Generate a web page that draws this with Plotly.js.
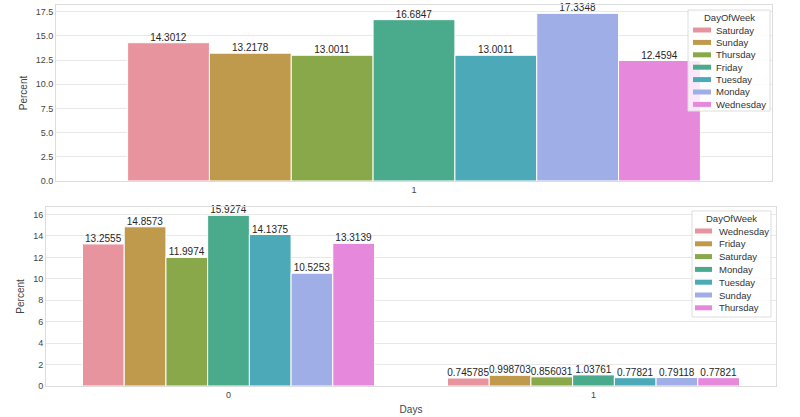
<!DOCTYPE html>
<html>
<head>
<meta charset="utf-8">
<script src="https://cdn.plot.ly/plotly-3.0.1.min.js"></script>
<style>html,body{margin:0;padding:0;background:#fff;}#chart{width:800px;height:417px;}</style>
</head>
<body>
<div id="chart"></div>
<script>
// Top panel (category "1")
const topCategories = ['1'];
const topDays = ['Saturday', 'Sunday', 'Thursday', 'Friday', 'Tuesday', 'Monday', 'Wednesday'];
const topValues = [14.3012, 13.2178, 13.0011, 16.6847, 13.0011, 17.3348, 12.4594];

// Bottom panel (categories "0" and "1")
const bottomCategories = ['0', '1'];
const bottomDays = ['Wednesday', 'Friday', 'Saturday', 'Monday', 'Tuesday', 'Sunday', 'Thursday'];
const bottomValues0 = [13.2555, 14.8573, 11.9974, 15.9274, 14.1375, 10.5253, 13.3139];
const bottomValues1 = [0.745785, 0.998703, 0.856031, 1.03761, 0.77821, 0.79118, 0.77821];

const palette = ['#e8949f', '#c09a4c', '#88a84a', '#4aab8c', '#4ca9b8', '#a0aee8', '#e689dc'];

const W = 800, H = 417;
const fontFam = '"Liberation Sans", Arial, sans-serif';
const traces = [];

topDays.forEach((d, i) => {
  traces.push({
    type: 'bar', x: topCategories, y: [topValues[i]], name: d,
    xaxis: 'x', yaxis: 'y', showlegend: false,
    marker: {color: palette[i], line: {color: '#ffffff', width: 1}},
    text: [String(topValues[i])], textposition: 'outside', cliponaxis: false,
    constraintext: 'none',
    textfont: {family: fontFam, size: 10, color: '#262626'},
    hoverinfo: 'x+y+name'
  });
});

bottomDays.forEach((d, i) => {
  const vals = [bottomValues0[i], bottomValues1[i]];
  traces.push({
    type: 'bar', x: bottomCategories, y: vals, name: d,
    xaxis: 'x2', yaxis: 'y2', showlegend: false,
    marker: {color: palette[i], line: {color: '#ffffff', width: 1}},
    text: vals.map(v => String(v)), textposition: 'outside', cliponaxis: false,
    constraintext: 'none',
    textfont: {family: fontFam, size: 10, color: '#262626'},
    hoverinfo: 'x+y+name'
  });
});

// Legend boxes drawn with shapes + annotations (matplotlib-style compact legend)
const shapes = [];
const annotations = [];
function px(x) { return x / W; }
function py(y) { return 1 - y / H; }
function addLegend(names, box, titleY, firstY, stepY, swX0, swX1, labelX) {
  shapes.push({type: 'rect', xref: 'paper', yref: 'paper', layer: 'above',
    x0: px(box[0]), x1: px(box[1]), y0: py(box[3]), y1: py(box[2]),
    fillcolor: 'rgba(255,255,255,0.8)', line: {color: '#dddddd', width: 1}});
  annotations.push({xref: 'paper', yref: 'paper', x: px((box[0] + box[1]) / 2), y: py(titleY),
    text: 'DayOfWeek', showarrow: false, xanchor: 'center', yanchor: 'middle',
    font: {family: fontFam, size: 9.5, color: '#333'}});
  names.forEach((n, i) => {
    const yc = firstY + i * stepY;
    shapes.push({type: 'rect', xref: 'paper', yref: 'paper', layer: 'above',
      x0: px(swX0), x1: px(swX1), y0: py(yc + 2.5), y1: py(yc - 2.5),
      fillcolor: palette[i], line: {width: 0}});
    annotations.push({xref: 'paper', yref: 'paper', x: px(labelX), y: py(yc),
      text: n, showarrow: false, xanchor: 'left', yanchor: 'middle',
      font: {family: fontFam, size: 9.5, color: '#333'}});
  });
}
addLegend(topDays, [688, 770, 10, 111], 17.5, 30, 12.4, 693, 711, 714);
addLegend(bottomDays, [692, 771, 211, 317], 218.5, 231, 12.8, 695, 712, 717);

const gridC = '#e8e8e8';
const lineC = '#dcdcdc';
const tickFont = {family: fontFam, size: 9, color: '#444'};

const layout = {
  width: W, height: H,
  margin: {l: 0, r: 0, t: 0, b: 0},
  paper_bgcolor: '#ffffff', plot_bgcolor: '#ffffff',
  font: {family: fontFam, size: 10, color: '#333'},
  barmode: 'group', bargap: 0.2, bargroupgap: 0,
  showlegend: false,
  shapes: shapes,
  annotations: annotations,
  xaxis: {
    domain: [0.07, 0.965], anchor: 'y', type: 'category',
    showgrid: false, showline: true, mirror: true, linecolor: lineC, linewidth: 1,
    ticks: '', tickfont: tickFont, zeroline: false
  },
  yaxis: {
    domain: [0.566, 0.988], anchor: 'x', range: [0, 18.2], dtick: 2.5, tick0: 0,
    tickformat: '.1f', showgrid: true, gridcolor: gridC, gridwidth: 1,
    showline: true, mirror: true, linecolor: lineC, linewidth: 1, zeroline: false,
    ticks: '', tickfont: tickFont,
    title: {text: 'Percent', font: {family: fontFam, size: 10, color: '#444'}, standoff: 6}
  },
  xaxis2: {
    domain: [0.0575, 0.97], anchor: 'y2', type: 'category',
    showgrid: false, showline: true, mirror: true, linecolor: lineC, linewidth: 1,
    ticks: '', tickfont: tickFont, zeroline: false,
    title: {text: 'Days', font: {family: fontFam, size: 10, color: '#444'}, standoff: 7}
  },
  yaxis2: {
    domain: [0.0743, 0.504], anchor: 'x2', range: [0, 16.72], dtick: 2, tick0: 0,
    showgrid: true, gridcolor: gridC, gridwidth: 1,
    showline: true, mirror: true, linecolor: lineC, linewidth: 1, zeroline: false,
    ticks: '', tickfont: tickFont,
    title: {text: 'Percent', font: {family: fontFam, size: 10, color: '#444'}, standoff: 6}
  }
};

Plotly.newPlot('chart', traces, layout, {displayModeBar: false, staticPlot: true}).then(function () {
  // Pull the value labels closer to the bar tops (seaborn bar_label style)
  document.querySelectorAll('#chart .bartext').forEach(function (el) {
    const t = el.getAttribute('transform') || '';
    el.setAttribute('transform', 'translate(0,3) ' + t);
  });
});
</script>
</body>
</html>
